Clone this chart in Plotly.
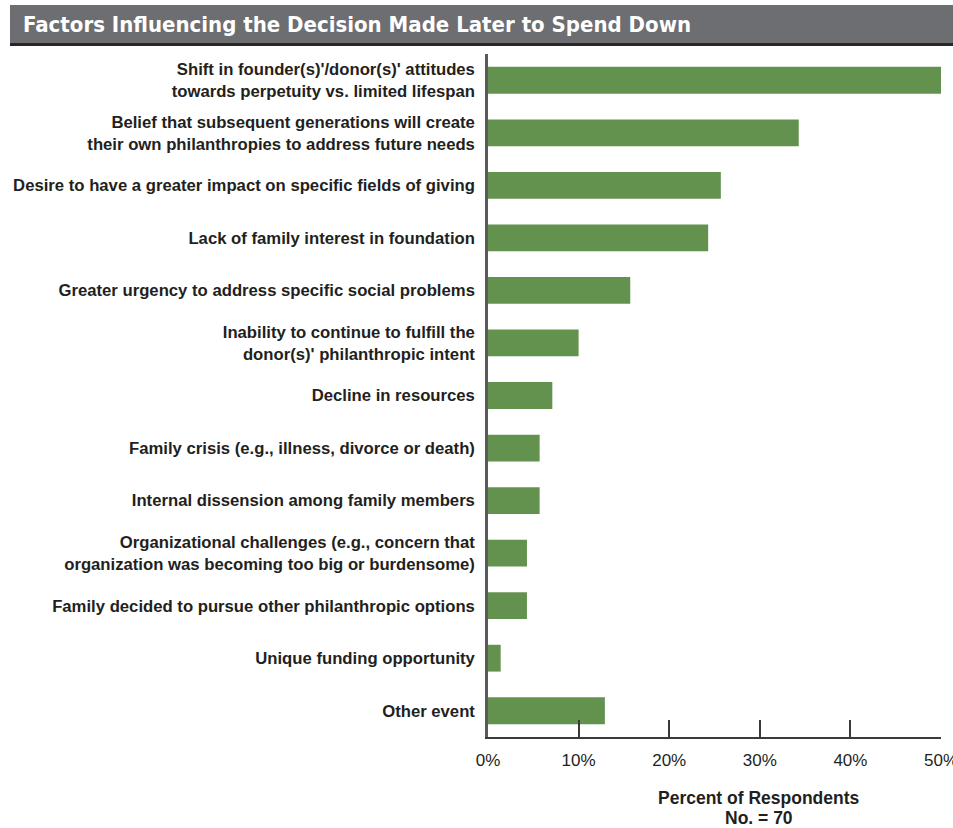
import plotly.graph_objects as go

# Share of respondents (No. = 70) citing each factor
factors = [
    "Shift in founder(s)'/donor(s)' attitudes<br>towards perpetuity vs. limited lifespan",
    "Belief that subsequent generations will create<br>their own philanthropies to address future needs",
    "Desire to have a greater impact on specific fields of giving",
    "Lack of family interest in foundation",
    "Greater urgency to address specific social problems",
    "Inability to continue to fulfill the<br>donor(s)' philanthropic intent",
    "Decline in resources",
    "Family crisis (e.g., illness, divorce or death)",
    "Internal dissension among family members",
    "Organizational challenges (e.g., concern that<br>organization was becoming too big or burdensome)",
    "Family decided to pursue other philanthropic options",
    "Unique funding opportunity",
    "Other event",
]
percents = [50.0, 34.3, 25.7, 24.3, 15.7, 10.0, 7.1, 5.7, 5.7, 4.3, 4.3, 1.4, 12.9]
x_ticks = [0, 10, 20, 30, 40, 50]
x_tick_text = ["0%", "10%", "20%", "30%", "40%", "50%"]

W, H = 953, 828
L, R, T, B = 488, 12, 54, 91
PW, PH = W - L - R, H - T - B


def px(xp):
    return (xp - L) / PW


def py(yp):
    return (H - B - yp) / PH


TEXT = "#231f20"
GREEN = "#63924f"
BAND = "#6d6e71"

fig = go.Figure(
    go.Bar(
        x=percents,
        y=factors,
        orientation="h",
        marker=dict(color=GREEN, line=dict(width=0)),
        width=0.51,
        hovertemplate="%{y}: %{x:.1f}%<extra></extra>",
    )
)

fig.update_layout(
    width=W,
    height=H,
    margin=dict(l=L, r=R, t=T, b=B, pad=0, autoexpand=False),
    paper_bgcolor="white",
    plot_bgcolor="white",
    showlegend=False,
    font=dict(family="Liberation Sans, Arial, sans-serif", color=TEXT),
    xaxis=dict(
        range=[0, 50],
        tickvals=x_ticks,
        ticktext=x_tick_text,
        ticks="inside",
        ticklen=17,
        tickwidth=1.5,
        tickcolor="#3a3a3a",
        showline=True,
        linecolor="#3a3a3a",
        linewidth=1.5,
        showgrid=False,
        zeroline=False,
        tickfont=dict(size=17, color=TEXT),
        ticklabelstandoff=7,
        ticklabeloverflow="allow",
        automargin=False,
        fixedrange=True,
    ),
    yaxis=dict(
        categoryorder="array",
        categoryarray=factors,
        autorange="reversed",
        showline=True,
        linecolor="#5a5a5a",
        linewidth=2.5,
        ticks="",
        showgrid=False,
        zeroline=False,
        tickfont=dict(size=16.7, color=TEXT, weight="bold"),
        ticklabelstandoff=7,
        automargin=False,
        fixedrange=True,
    ),
    shapes=[
        # title band
        dict(type="rect", xref="paper", yref="paper",
             x0=px(10), x1=px(953), y0=py(43), y1=py(5),
             fillcolor=BAND, line=dict(width=0), layer="above"),
        dict(type="rect", xref="paper", yref="paper",
             x0=px(10), x1=px(953), y0=py(46), y1=py(43),
             fillcolor="#2a2526", line=dict(width=0), layer="above"),
    ],
    annotations=[
        dict(text="<b>Factors Influencing the Decision Made Later to Spend Down</b>",
             xref="paper", yref="paper", x=px(21), y=py(25),
             xanchor="left", yanchor="middle", showarrow=False,
             font=dict(family="DejaVu Sans Condensed, DejaVu Sans, sans-serif",
                       size=22, color="white")),
        dict(text="Percent of Respondents",
             xref="paper", yref="paper", x=px(759), y=py(798),
             xanchor="center", yanchor="middle", showarrow=False,
             font=dict(size=17.5, color=TEXT, weight="bold")),
        dict(text="No. = 70",
             xref="paper", yref="paper", x=px(759), y=py(818),
             xanchor="center", yanchor="middle", showarrow=False,
             font=dict(size=17.5, color=TEXT, weight="bold")),
    ],
)

fig.write_html("out.html")
